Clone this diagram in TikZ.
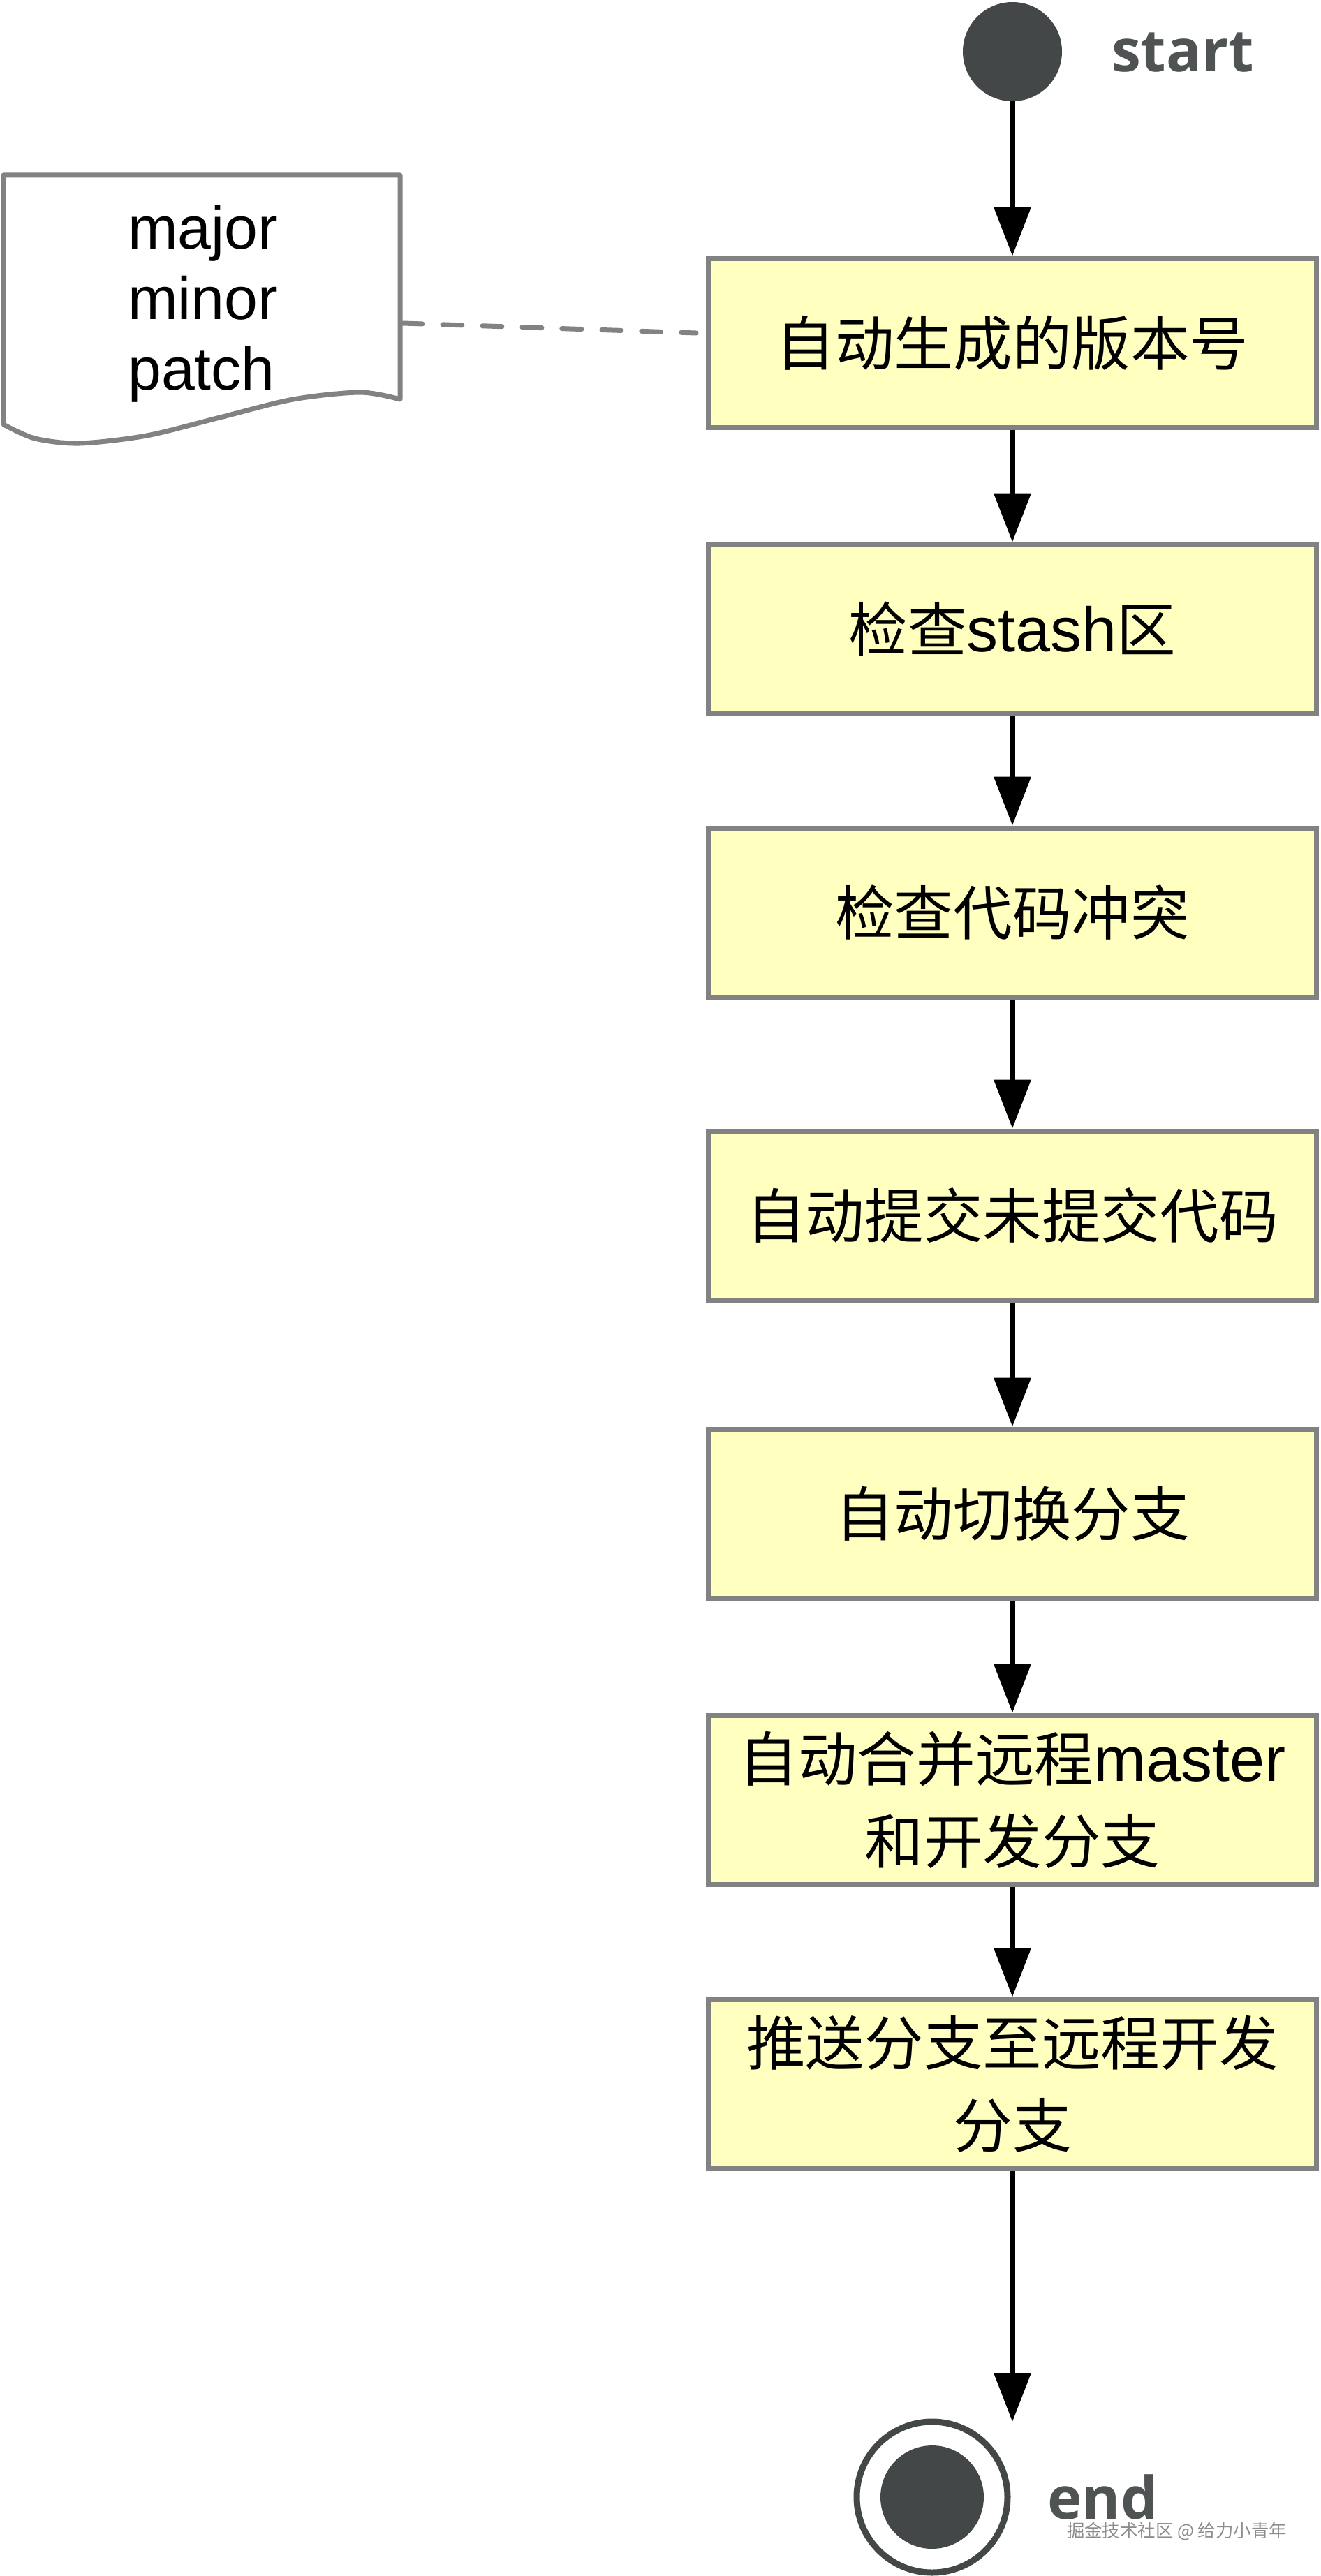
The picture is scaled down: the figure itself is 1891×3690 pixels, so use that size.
\documentclass[tikz,border=0pt]{standalone}
\usepackage{fontspec}
\setmainfont{Liberation Sans}
\newfontfamily\cjk{Noto Sans CJK SC}[Scale=0.94]
\newfontfamily\lblfont{Open Sans}
\usetikzlibrary{arrows.meta,calc}
\definecolor{boxfill}{HTML}{FFFFC0}
\definecolor{boxline}{HTML}{828282}
\definecolor{darkdot}{HTML}{444748}
\definecolor{lblgray}{HTML}{4F5354}
\newcommand\zh[1]{{\cjk #1}}
\begin{document}
\begin{tikzpicture}[x=1pt,y=-1pt,
  stepbox/.style={draw=boxline, fill=boxfill, line width=7pt, minimum width=871pt,
    minimum height=242pt, inner sep=0pt, align=center, font=\fontsize{90}{118}\selectfont},
  flow/.style={line width=7pt, -{Triangle[width=52pt,length=70pt]}},
  dashline/.style={draw=boxline, line width=7pt, line cap=round, dash pattern=on 28pt off 29pt},
  noteline/.style={draw=boxline, line width=7pt, fill=white, line join=round},
  notetext/.style={inner sep=0pt, align=left, font=\fontsize{86}{101}\selectfont},
  lbltext/.style={inner sep=0pt, text=lblgray, font=\lblfont\bfseries\fontsize{84}{84}\selectfont},
  dot/.style={circle, fill=darkdot, inner sep=0pt}
]
\path[fill=white] (0,0) rectangle (1891,3690);
\useasboundingbox (0,0) rectangle (1891,3690);

% start
\node[dot, minimum size=142pt] (start) at (1450,74) {};
\node[lbltext, anchor=base west] (startlbl) at (1592,103) {start};

% note
\draw[noteline] plot[smooth] coordinates {(5,608) (50,628) (114,635) (210,624) (315,598) (420,572) (516,562) (573,572)} -- (573,251) -- (5,251) -- cycle;
\coordinate (noteR) at (577,463);
\node[notetext, anchor=base west] (note) at (183,558) {major\\minor\\patch};

% boxes
\node[stepbox] (b1) at (1450,491) {\zh{自动生成的版本号}};
\node[stepbox] (b2) at (1450,901) {\zh{检查}stash\zh{区}};
\node[stepbox] (b3) at (1450,1307) {\zh{检查代码冲突}};
\node[stepbox] (b4) at (1450,1741) {\zh{自动提交未提交代码}};
\node[stepbox] (b5) at (1450,2168) {\zh{自动切换分支}};
\node[stepbox] (b6) at (1450,2578) {\zh{自动合并远程}master\\\zh{和开发分支}};
\node[stepbox] (b7) at (1450,2985) {\zh{推送分支至远程开发}\\\zh{分支}};

% end
\node[circle, draw=darkdot, line width=9pt, fill=white, minimum size=216pt, inner sep=0pt] (endc) at (1335,3577) {};
\node[dot, minimum size=148pt] (endi) at (endc.center) {};
\node[lbltext, anchor=base west] (endlbl) at (1500,3608) {end};
\node[anchor=west, inner sep=0pt, text=black!45, font=\cjk\fontsize{27}{27}\selectfont] (wm) at (1528,3626) {掘金技术社区 @ 给力小青年};
\coordinate (endtip) at (1450,3469);

% connectors
\draw[dashline] (noteR) -- ($(b1.west)+(-14,-14)$);
\draw[flow] (start) -- (b1);
\draw[flow] (b1) -- (b2);
\draw[flow] (b2) -- (b3);
\draw[flow] (b3) -- (b4);
\draw[flow] (b4) -- (b5);
\draw[flow] (b5) -- (b6);
\draw[flow] (b6) -- (b7);
\draw[flow] (b7) -- (endtip);
\end{tikzpicture}
\end{document}
